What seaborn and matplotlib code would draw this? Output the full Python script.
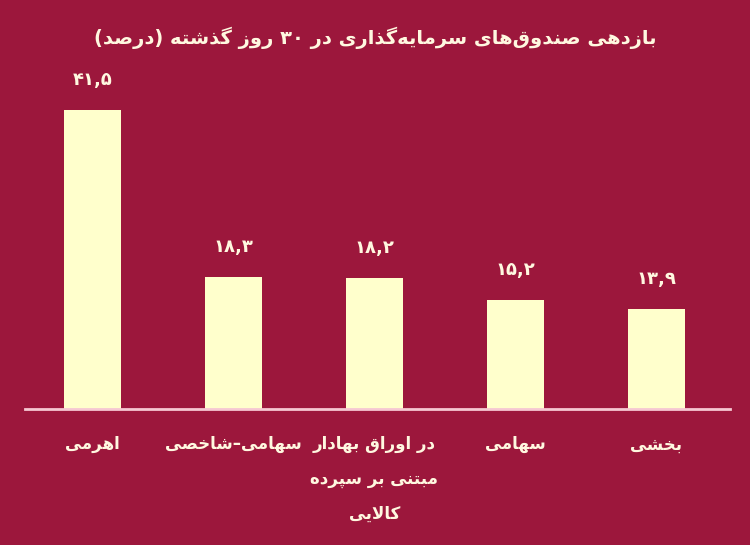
import pandas as pd
import matplotlib.pyplot as plt
import seaborn as sns

# data
categories = ['اهرمی', 'سهامی–شاخصی', 'در اوراق بهادار\nمبتنی بر سپرده\nکالایی', 'سهامی', 'بخشی']
returns = [41.5, 18.3, 18.2, 15.2, 13.9]
title = 'بازدهی صندوق‌های سرمایه‌گذاری در ۳۰ روز گذشته (درصد)'

BG = '#9c173c'
BAR = '#ffffcc'
TXT = '#fff8e0'

# matplotlib has no arabic shaping, so map letters to presentation forms by hand
# (isolated, final, initial, medial); None -> letter only joins to the right
FORMS = {
    'ا': ('\ufe8d', '\ufe8e', None, None),
    'ب': ('\ufe8f', '\ufe90', '\ufe91', '\ufe92'),
    'پ': ('\ufb56', '\ufb57', '\ufb58', '\ufb59'),
    'ت': ('\ufe95', '\ufe96', '\ufe97', '\ufe98'),
    'خ': ('\ufea5', '\ufea6', '\ufea7', '\ufea8'),
    'د': ('\ufea9', '\ufeaa', None, None),
    'ذ': ('\ufeab', '\ufeac', None, None),
    'ر': ('\ufead', '\ufeae', None, None),
    'ز': ('\ufeaf', '\ufeb0', None, None),
    'س': ('\ufeb1', '\ufeb2', '\ufeb3', '\ufeb4'),
    'ش': ('\ufeb5', '\ufeb6', '\ufeb7', '\ufeb8'),
    'ص': ('\ufeb9', '\ufeba', '\ufebb', '\ufebc'),
    'ق': ('\ufed5', '\ufed6', '\ufed7', '\ufed8'),
    'ک': ('\ufb8e', '\ufb8f', '\ufb90', '\ufb91'),
    'گ': ('\ufb92', '\ufb93', '\ufb94', '\ufb95'),
    'ل': ('\ufedd', '\ufede', '\ufedf', '\ufee0'),
    'م': ('\ufee1', '\ufee2', '\ufee3', '\ufee4'),
    'ن': ('\ufee5', '\ufee6', '\ufee7', '\ufee8'),
    'ه': ('\ufee9', '\ufeea', '\ufeeb', '\ufeec'),
    'و': ('\ufeed', '\ufeee', None, None),
    'ی': ('\ufbfc', '\ufbfd', '\ufbfe', '\ufbff'),
    'لا': ('\ufefb', '\ufefc', None, None),
}
MIRROR = {'(': ')', ')': '('}


def shape_line(s):
    # lam + alef ligature first
    toks = []
    i = 0
    while i < len(s):
        if s[i] == 'ل' and i + 1 < len(s) and s[i + 1] == 'ا':
            toks.append('لا')
            i += 2
        else:
            toks.append(s[i])
            i += 1
    out = []
    for k, t in enumerate(toks):
        if t not in FORMS:
            out.append(t)
            continue
        prev = toks[k - 1] if k > 0 else None
        nxt = toks[k + 1] if k + 1 < len(toks) else None
        join_prev = prev in FORMS and FORMS[prev][2] is not None
        join_next = FORMS[t][2] is not None and nxt in FORMS
        iso, fin, ini, med = FORMS[t]
        if join_prev and join_next:
            out.append(med)
        elif join_prev:
            out.append(fin)
        elif join_next:
            out.append(ini)
        else:
            out.append(iso)
    out = [c for c in out if c != '\u200c']
    # visual order: reverse, but keep digit runs left-to-right
    vis = []
    run = []
    for c in reversed(out):
        if c.isdigit():
            run.insert(0, c)
        else:
            vis.extend(run)
            run = []
            vis.append(MIRROR.get(c, c))
    vis.extend(run)
    return ''.join(vis)


def rtl(s):
    return '\n'.join(shape_line(line) for line in s.split('\n'))


def fa_num(v):
    digits = str(v).translate(str.maketrans('0123456789', '۰۱۲۳۴۵۶۷۸۹'))
    return digits.replace('.', ',')


df = pd.DataFrame({'cat': [rtl(c) for c in categories], 'val': returns})

sns.set_style('white')
plt.rcParams['font.family'] = ['DejaVu Sans']

fig = plt.figure(figsize=(7.5, 5.45), dpi=100)
fig.patch.set_facecolor(BG)
ax = fig.add_axes([0.033, 0.2495, 0.94, 0.5945])
ax.set_facecolor(BG)

sns.barplot(data=df, x='cat', y='val', color=BAR, width=0.4, saturation=1,
            edgecolor='none', ax=ax)

for i, v in enumerate(returns):
    ax.annotate(fa_num(v), (i, v), xytext=(0, 15), textcoords='offset points',
                ha='center', va='bottom', color=TXT, fontsize=13, fontweight='bold')

ax.set_xlim(-0.48, 4.52)
ax.set_ylim(0, 45)
ax.set_xlabel('')
ax.set_ylabel('')
ax.set_yticks([])
ax.tick_params(axis='x', length=0, pad=19, labelsize=12, colors=TXT)
for lbl in ax.get_xticklabels():
    lbl.set_fontweight('bold')
    lbl.set_linespacing(2.2)
    lbl.set_verticalalignment('top')
for side in ['top', 'left', 'right']:
    ax.spines[side].set_visible(False)
ax.spines['bottom'].set_color('#f6c8d2')
ax.spines['bottom'].set_linewidth(2)

fig.text(0.5, 0.93, rtl(title), ha='center', va='center', color=TXT,
         fontsize=14, fontweight='bold')

fig.savefig('out.png', dpi=100, facecolor=BG)
